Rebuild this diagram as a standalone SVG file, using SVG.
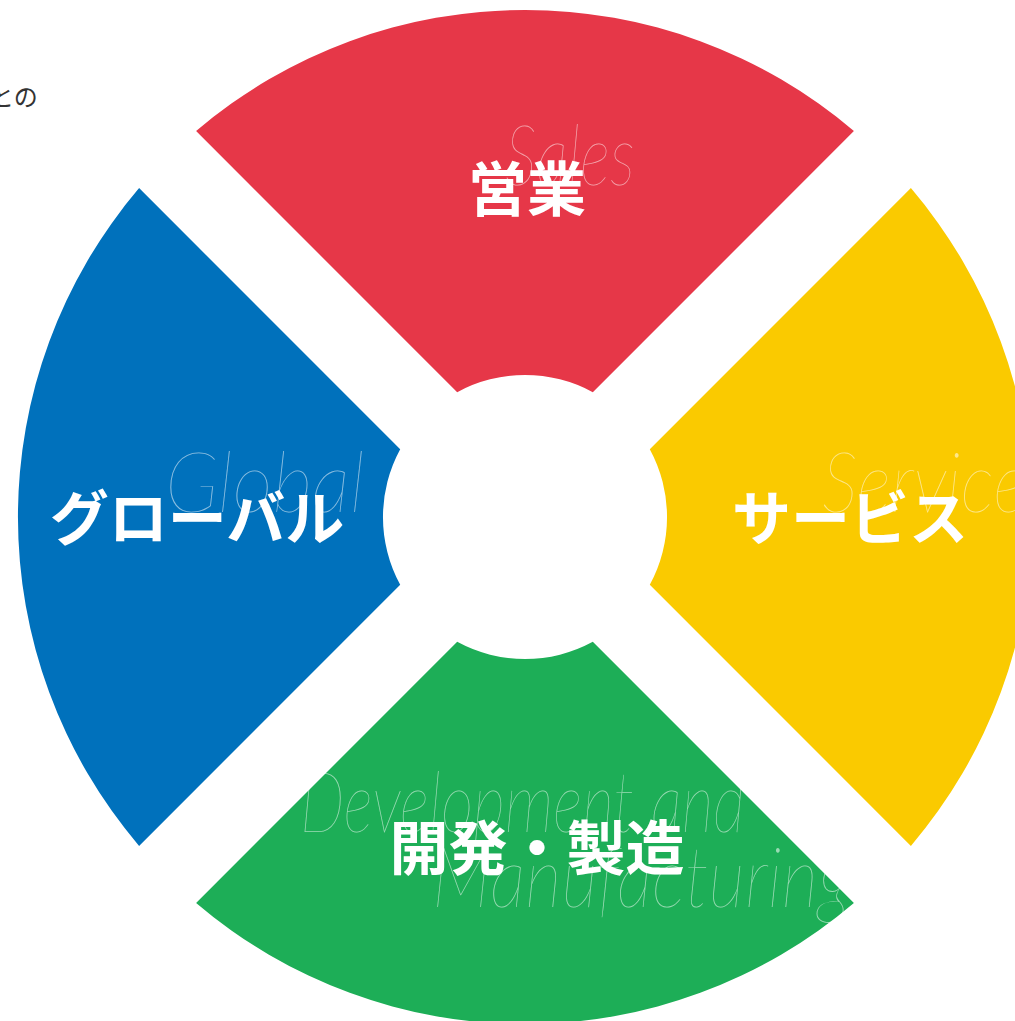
<svg xmlns="http://www.w3.org/2000/svg" width="1015" height="1021" viewBox="0 0 1015 1021">
<style>
.jp{font-family:"Noto Sans CJK JP","Noto Sans",sans-serif;font-weight:700;font-size:59px;fill:#fff;text-anchor:middle}
.en{font-family:Lato,"Liberation Serif",serif;font-style:italic;font-weight:100;font-size:84px;fill:#fff;fill-opacity:0.55}
.lead{font-family:"Noto Sans CJK JP","Noto Sans",sans-serif;font-size:24px;fill:#333}
</style>
<rect width="1015" height="1021" fill="#fff"/>
<text class="lead" x="-10" y="106">との</text>
<g id="sales">
<path d="M196.1 131.1 A507 507 0 0 1 853.9 131.1 L592.8 392.2 A142 142 0 0 0 457.2 392.2 Z" fill="#E63748"/>
<text class="en" x="505" y="185" textLength="130" lengthAdjust="spacingAndGlyphs">Sales</text>
<text class="jp" x="527" y="211">営業</text>
</g>
<g id="global">
<path d="M139.1 845.9 A507 507 0 0 1 139.1 188.1 L400.2 449.2 A142 142 0 0 0 400.2 584.8 Z" fill="#0071BC"/>
<text class="en" x="165" y="512" textLength="200" lengthAdjust="spacingAndGlyphs">Global</text>
<text class="jp" x="197" y="540">グローバル</text>
</g>
<g id="service">
<path d="M910.9 188.1 A507 507 0 0 1 910.9 845.9 L649.8 584.8 A142 142 0 0 0 649.8 449.2 Z" fill="#FACA00"/>
<text class="en" x="822" y="512" textLength="205" lengthAdjust="spacingAndGlyphs">Service</text>
<text class="jp" x="850" y="540">サービス</text>
</g>
<g id="development">
<path d="M853.9 902.9 A507 507 0 0 1 196.1 902.9 L457.2 641.8 A142 142 0 0 0 592.8 641.8 Z" fill="#1DAE57"/>
<text class="en" x="300" y="832" textLength="445" lengthAdjust="spacingAndGlyphs">Development and</text>
<text class="en" x="432" y="907" textLength="418" lengthAdjust="spacingAndGlyphs">Manufacturing</text>
<text class="jp" x="537" y="870">開発・製造</text>
</g>
<g id="connectors"/>
</svg>
